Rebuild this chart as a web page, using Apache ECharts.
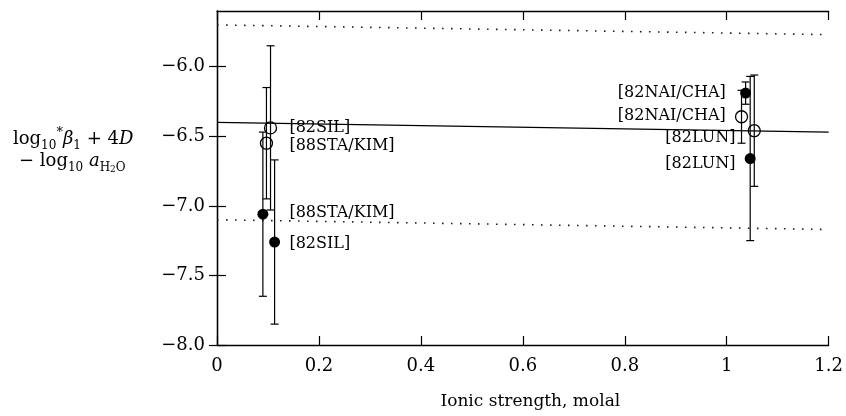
<!DOCTYPE html>
<html>
<head>
<meta charset="utf-8">
<script src="https://cdn.jsdelivr.net/npm/echarts@6/dist/echarts.min.js"></script>
<style>
  html, body { margin: 0; padding: 0; background: #fff; }
  #chart { width: 846px; height: 416px; }
</style>
</head>
<body>
<div id="chart"></div>
<script>
// tick values
const xTicks = [0, 0.2, 0.4, 0.6, 0.8, 1, 1.2];
const yTicks = [-8.0, -7.5, -7.0, -6.5, -6.0];

// measured points (ionic strength, value, uncertainty)
const pointNames  = ['[82SIL]', '[88STA/KIM]', '[88STA/KIM]', '[82SIL]', '[82NAI/CHA]', '[82NAI/CHA]', '[82LUN]', '[82LUN]'];
const pointX      = [0.105, 0.097, 0.090, 0.113, 1.037, 1.029, 1.054, 1.046];
const pointY      = [-6.44, -6.55, -7.06, -7.26, -6.19, -6.36, -6.46, -6.66];
const pointErr    = [0.59, 0.40, 0.59, 0.59, 0.08, 0.19, 0.40, 0.59];
const pointFilled = [false, false, true, true, true, false, false, true];

// where the reference texts sit, in data units
const noteX = [0.142, 0.142, 0.142, 0.142, 0.998, 0.998, 1.017, 1.017];
const noteY = [-6.44, -6.57, -7.05, -7.27, -6.19, -6.35, -6.51, -6.70];

// fitted line and its uncertainty band
const fitX       = [0, 1.2];
const fitY       = [-6.40, -6.47];
const bandUpperY = [-5.70, -5.77];
const bandLowerY = [-7.10, -7.17];

const FONT = 'DejaVu Serif';

let chart = echarts.init(document.getElementById('chart'));

const pairs = (xs, ys) => xs.map((x, i) => [x, ys[i]]);
const fmtY = v => (v < 0 ? '\u2212' : '') + Math.abs(v).toFixed(1);

let openPts = [], filledPts = [], errPts = [], notes = [];
pointX.forEach((x, i) => {
  (pointFilled[i] ? filledPts : openPts).push([x, pointY[i]]);
  errPts.push([x, pointY[i], pointErr[i]]);
  notes.push({
    value: [noteX[i], noteY[i]],
    name: pointNames[i],
    label: { position: x < 0.6 ? 'right' : 'left' }
  });
});

const axisLine = { show: true, lineStyle: { color: '#000', width: 1.3 } };

let option = {
  animation: false,
  grid: { left: 217, right: 12, top: 11, bottom: 71 },
  xAxis: [
    {
      type: 'value', min: 0, max: 1.2, interval: 0.2, position: 'bottom',
      axisLine: axisLine,
      axisTick: { inside: true, length: 9, lineStyle: { color: '#000', width: 1.2 } },
      axisLabel: { margin: 12, color: '#000', fontFamily: FONT, fontSize: 18 },
      splitLine: { show: false },
      name: 'Ionic strength, molal', nameLocation: 'middle', nameGap: 48,
      nameTextStyle: { color: '#000', fontFamily: FONT, fontSize: 17, padding: [0, 0, 0, 15] }
    },
    {
      type: 'value', min: 0, max: 1.2, interval: 0.2, position: 'top',
      axisLine: axisLine,
      axisTick: { inside: true, length: 9, lineStyle: { color: '#000', width: 1.2 } },
      axisLabel: { show: false },
      splitLine: { show: false }
    }
  ],
  yAxis: [
    {
      type: 'value', min: -8.0, max: -5.6, interval: 0.5, position: 'left',
      axisLine: axisLine,
      axisTick: { inside: true, length: 9, customValues: yTicks, lineStyle: { color: '#000', width: 1.2 } },
      axisLabel: { margin: 12, color: '#000', fontFamily: FONT, fontSize: 18, customValues: yTicks, formatter: fmtY },
      splitLine: { show: false }
    },
    {
      type: 'value', min: -8.0, max: -5.6, interval: 0.5, position: 'right',
      axisLine: axisLine,
      axisTick: { inside: true, length: 8, customValues: yTicks, lineStyle: { color: '#000', width: 1.2 } },
      axisLabel: { show: false },
      splitLine: { show: false }
    }
  ],
  graphic: [
    {
      type: 'text', left: 13, top: 126, z: 10,
      style: {
        text: '{m|log}{s|10}{p|*}{i|β}{s|1}{m| + 4}{i|D}',
        fill: '#000',
        rich: {
          m: { fontFamily: FONT, fontSize: 18, lineHeight: 26 },
          i: { fontFamily: FONT, fontSize: 18, fontStyle: 'italic', lineHeight: 26 },
          s: { fontFamily: FONT, fontSize: 12, lineHeight: 12, verticalAlign: 'bottom' },
          p: { fontFamily: FONT, fontSize: 13, lineHeight: 19, verticalAlign: 'top' }
        }
      }
    },
    {
      type: 'text', left: 19, top: 152, z: 10,
      style: {
        text: '{m|\u2212 log}{s|10}{m| }{i|a}{s|H}{t|2}{s|O}',
        fill: '#000',
        rich: {
          m: { fontFamily: FONT, fontSize: 18, lineHeight: 26 },
          i: { fontFamily: FONT, fontSize: 18, fontStyle: 'italic', lineHeight: 26 },
          s: { fontFamily: FONT, fontSize: 12, lineHeight: 12, verticalAlign: 'bottom' },
          t: { fontFamily: FONT, fontSize: 9, lineHeight: 9, verticalAlign: 'bottom' }
        }
      }
    }
  ],
  series: [
    {
      type: 'line', data: pairs(fitX, fitY), symbol: 'none', z: 1,
      lineStyle: { color: '#000', width: 1.2 }
    },
    {
      type: 'line', data: pairs(fitX, bandUpperY), symbol: 'none', z: 1,
      lineStyle: { color: '#222', width: 1.6, type: [1.6, 7.4] }
    },
    {
      type: 'line', data: pairs(fitX, bandLowerY), symbol: 'none', z: 1,
      lineStyle: { color: '#222', width: 1.6, type: [1.6, 7.4] }
    },
    {
      type: 'custom', z: 2, data: errPts,
      renderItem: function (params, api) {
        const x = api.value(0), y = api.value(1), e = api.value(2);
        const top = api.coord([x, y + e]);
        const bot = api.coord([x, y - e]);
        const w = 4;
        const st = { stroke: '#000', lineWidth: 1.2 };
        return {
          type: 'group',
          children: [
            { type: 'line', shape: { x1: top[0], y1: top[1], x2: bot[0], y2: bot[1] }, style: st },
            { type: 'line', shape: { x1: top[0] - w, y1: top[1], x2: top[0] + w, y2: top[1] }, style: st },
            { type: 'line', shape: { x1: bot[0] - w, y1: bot[1], x2: bot[0] + w, y2: bot[1] }, style: st }
          ]
        };
      }
    },
    {
      type: 'scatter', z: 3, data: openPts, symbol: 'circle', symbolSize: 12,
      itemStyle: { color: 'rgba(0,0,0,0)', borderColor: '#000', borderWidth: 1.3, opacity: 1 }
    },
    {
      type: 'scatter', z: 3, data: filledPts, symbol: 'circle', symbolSize: 11,
      itemStyle: { color: '#000', opacity: 1 }
    },
    {
      type: 'scatter', z: 4, data: notes, symbolSize: 0,
      itemStyle: { opacity: 1 },
      label: {
        show: true, distance: 0, formatter: '{b}', opacity: 1,
        color: '#000', fontFamily: FONT, fontSize: 16
      }
    }
  ]
};

chart.setOption(option);
</script>
</body>
</html>
